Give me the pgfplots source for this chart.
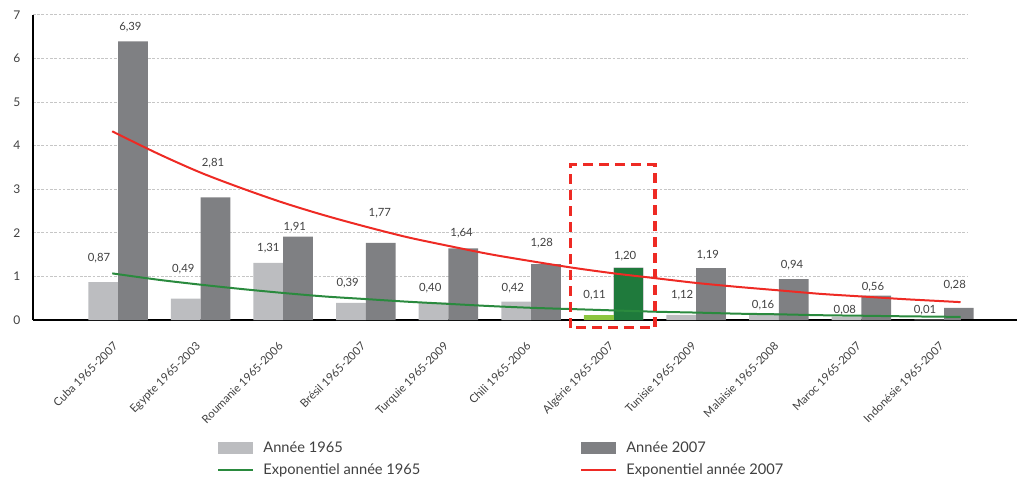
\documentclass[border=0pt]{standalone}
\usepackage{pgfplots}
\pgfplotsset{compat=1.18}
\usepackage{fontspec}
\setmainfont{Lato}
\definecolor{lgray}{HTML}{BCBDC0}
\definecolor{dgray}{HTML}{7F8083}
\definecolor{dgreen}{HTML}{1F7A3C}
\definecolor{lgreen}{HTML}{8CC63F}
\definecolor{tgreen}{HTML}{2A8A3E}
\definecolor{tred}{HTML}{EE2A24}
\definecolor{txt}{HTML}{404040}
\begin{document}
\begin{tikzpicture}
\begin{axis}[
  at={(0,0)}, anchor=origin,
  x=62pt, y=32.73pt,
  xmin=-1.03, xmax=10.28, ymin=0, ymax=7,
  clip=false,
  axis x line*=bottom, axis y line*=left,
  axis line style={line width=1.5pt, -},
  xtick={0,1,2,3,4,5,6,7,8,9,10},
  xticklabels={Cuba 1965-2007, Egypte 1965-2003, Roumanie 1965-2006, Brésil 1965-2007, Turquie 1965-2009, Chili 1965-2006, Algérie 1965-2007, Tunisie 1965-2009, Malaisie 1965-2008, Maroc 1965-2007, Indonésie 1965-2007},
  xticklabel style={xshift=-4pt, yshift=-11pt, rotate=45, anchor=north east, font=\fontsize{8.5}{10}\selectfont, text=txt},
  ytick={0,1,...,7},
  yticklabel style={font=\fontsize{9}{10}\selectfont, text=txt, xshift=-6pt},
  /pgf/number format/assume math mode=true,
  major tick length=0pt,
  ymajorgrids, major grid style={gray!45, dash pattern=on 2pt off 1.2pt, line width=0.6pt},
  legend columns=2,
  legend cell align=left,
  legend style={at={(axis cs:1.2,-2.72)}, anchor=north west, draw=none, fill=none, inner sep=0pt,
    font=\fontsize{11}{13}\selectfont, text=txt,
    /tikz/every even column/.append style={column sep=118pt},
    /tikz/every odd column/.append style={column sep=5pt},
    row sep=3pt},
]
% 1965
\addplot[ybar, bar width=0.36, bar shift=-0.18, fill=lgray, draw=none,
  legend image code/.code={\fill[lgray] (0pt,-4.5pt) rectangle (26pt,4.5pt);}]
  coordinates {(0,0.87) (1,0.49) (2,1.31) (3,0.39) (4,0.40) (5,0.42) (6,0.11) (7,0.12) (8,0.16) (9,0.08) (10,0.01)};
\addlegendentry{Année 1965}
% 2007
\addplot[ybar, bar width=0.36, bar shift=0.18, fill=dgray, draw=none,
  legend image code/.code={\fill[dgray] (0pt,-4.5pt) rectangle (26pt,4.5pt);}]
  coordinates {(0,6.39) (1,2.81) (2,1.91) (3,1.77) (4,1.64) (5,1.28) (6,1.20) (7,1.19) (8,0.94) (9,0.56) (10,0.28)};
\addlegendentry{Année 2007}
% Algerie highlight
\addplot[ybar, bar width=0.36, bar shift=-0.18, fill=lgreen, draw=none, forget plot]
  coordinates {(6,0.11)};
\addplot[ybar, bar width=0.36, bar shift=0.18, fill=dgreen, draw=none, forget plot]
  coordinates {(6,1.20)};
% trend lines
\addplot[tgreen, line width=1.5pt, smooth, mark=none,
  legend image code/.code={\draw[tgreen, line width=1.5pt] (0pt,0pt) -- (26pt,0pt);}]
  coordinates {(-0.07,1.07) (0,1.05) (0.5,0.92) (1,0.81) (1.5,0.71) (2,0.62) (2.5,0.54) (3,0.48) (3.5,0.42) (4,0.37) (4.5,0.32) (5,0.28) (5.5,0.25) (6,0.22) (6.5,0.19) (7,0.17) (7.5,0.145) (8,0.13) (8.5,0.11) (9,0.098) (9.5,0.085) (10,0.075) (10.2,0.071)};
\addlegendentry{Exponentiel année 1965}
\addplot[tred, line width=1.5pt, smooth, mark=none,
  legend image code/.code={\draw[tred, line width=1.5pt] (0pt,0pt) -- (26pt,0pt);}]
  coordinates {(-0.07,4.33) (0,4.26) (0.5,3.80) (1,3.38) (1.5,3.02) (2,2.69) (2.5,2.40) (3,2.14) (3.5,1.90) (4,1.70) (4.5,1.51) (5,1.35) (5.5,1.20) (6,1.07) (6.5,0.96) (7,0.85) (7.5,0.76) (8,0.68) (8.5,0.60) (9,0.54) (9.5,0.48) (10,0.43) (10.2,0.41)};
\addlegendentry{Exponentiel année 2007}
% x axis extension
\draw[line width=1.5pt] (axis cs:10.2,0) -- (axis cs:10.88,0);
% dashed highlight box
\draw[tred, line width=2.4pt, dash pattern=on 7.5pt off 4.5pt] (axis cs:5.48,-0.18) rectangle (axis cs:6.50,3.56);
% labels
\begin{scope}[every node/.style={font=\fontsize{8.5}{10}\selectfont, text=txt, inner sep=0pt}]
\node at (axis cs:-0.23,1.42) {0,87};
\node at (axis cs:0.79,1.17) {0,49};
\node at (axis cs:1.82,1.65) {1,31};
\node at (axis cs:2.78,0.85) {0,39};
\node at (axis cs:3.78,0.73) {0,40};
\node at (axis cs:4.78,0.73) {0,42};
\node at (axis cs:5.77,0.57) {0,11};
\node at (axis cs:6.83,0.57) {1,12};
\node at (axis cs:7.81,0.34) {0,16};
\node at (axis cs:8.80,0.23) {0,08};
\node at (axis cs:9.77,0.23) {0,01};
\node at (axis cs:0.15,6.72) {6,39};
\node at (axis cs:1.15,3.60) {2,81};
\node at (axis cs:2.14,2.13) {1,91};
\node at (axis cs:3.17,2.45) {1,77};
\node at (axis cs:4.16,2.00) {1,64};
\node at (axis cs:5.13,1.77) {1,28};
\node at (axis cs:6.14,1.47) {1,20};
\node at (axis cs:7.14,1.49) {1,19};
\node at (axis cs:8.16,1.26) {0,94};
\node at (axis cs:9.14,0.76) {0,56};
\node at (axis cs:10.13,0.80) {0,28};
\end{scope}
\end{axis}
\pgfresetboundingbox
\path (-88.6pt,-119.3pt) rectangle (674.8pt,240.2pt);
\end{tikzpicture}
\end{document}
